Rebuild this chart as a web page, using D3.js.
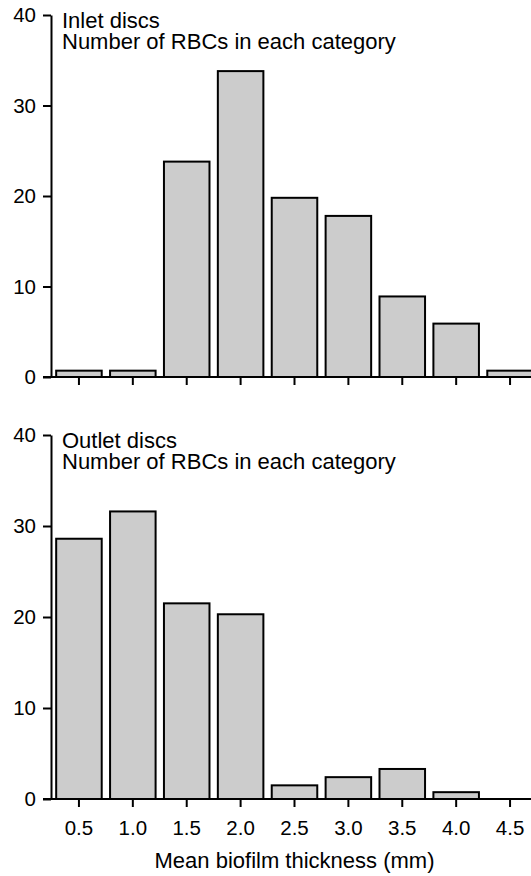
<!DOCTYPE html>
<html>
<head>
<meta charset="utf-8">
<script src="https://cdn.jsdelivr.net/npm/d3@7"></script>
<style>
  body { margin: 0; background: #fff; }
  text { font-family: "Liberation Sans", Arial, sans-serif; fill: #000; }
</style>
</head>
<body>
<svg id="chart"></svg>
<script>
const width = 531;
const height = 876;

// bin centres (mm)
const categories = ["0.5", "1.0", "1.5", "2.0", "2.5", "3.0", "3.5", "4.0", "4.5"];
// number of RBCs per bin
const inletValues = [0.7, 0.7, 23.8, 33.8, 19.8, 17.8, 8.9, 5.9, 0.7];
const outletValues = [28.6, 31.6, 21.5, 20.3, 1.5, 2.4, 3.3, 0.75, 0];
const yTicks = [0, 10, 20, 30, 40];

const svg = d3.select("#chart")
    .attr("width", width)
    .attr("height", height);

const x = d3.scaleBand()
    .domain(categories)
    .range([52, 537])
    .paddingInner(0.155)
    .paddingOuter(0.0775);

function panel(values, top, bottom, titleLine1, showLabels) {
    const y = d3.scaleLinear().domain([0, 40]).range([bottom, top]);
    const g = svg.append("g");

    // bars
    g.selectAll("rect").data(values).join("rect")
        .attr("x", (d, i) => x(categories[i]))
        .attr("width", x.bandwidth())
        .attr("y", d => y(d))
        .attr("height", d => y(0) - y(d))
        .attr("fill", "#cccccc")
        .attr("stroke", "#000")
        .attr("stroke-width", 2)
        .style("display", d => d > 0 ? null : "none");

    // y axis
    const yAxis = g.append("g")
        .attr("transform", "translate(51,0)")
        .call(d3.axisLeft(y).tickValues(yTicks).tickSize(8).tickSizeOuter(0).tickPadding(7));
    yAxis.selectAll("path, line").attr("stroke", "#000").attr("stroke-width", 2);
    yAxis.selectAll("text").style("font-size", "20.5px").attr("font-family", null);

    // x axis
    const xAxis = g.append("g")
        .attr("transform", `translate(0,${bottom})`)
        .call(d3.axisBottom(x).tickSize(8).tickSizeOuter(0).tickPadding(13));
    xAxis.select(".domain").remove();
    xAxis.selectAll("line").attr("stroke", "#000").attr("stroke-width", 2);
    xAxis.selectAll("text").style("font-size", "20.5px").attr("font-family", null)
        .style("display", showLabels ? null : "none");
    g.append("line")
        .attr("x1", 43).attr("x2", width)
        .attr("y1", bottom).attr("y2", bottom)
        .attr("stroke", "#000").attr("stroke-width", 2);

    // panel title
    const t = g.append("text").attr("x", 62).attr("y", top + 13).style("font-size", "22px");
    t.append("tspan").text(titleLine1);
    t.append("tspan").attr("x", 62).attr("dy", 21).text("Number of RBCs in each category");
}

panel(inletValues, 15, 377, "Inlet discs", false);
panel(outletValues, 435, 799, "Outlet discs", true);

svg.append("text")
    .attr("x", (x.range()[0] + x.range()[1]) / 2)
    .attr("y", 868)
    .attr("text-anchor", "middle")
    .style("font-size", "22px")
    .text("Mean biofilm thickness (mm)");
</script>
</body>
</html>
